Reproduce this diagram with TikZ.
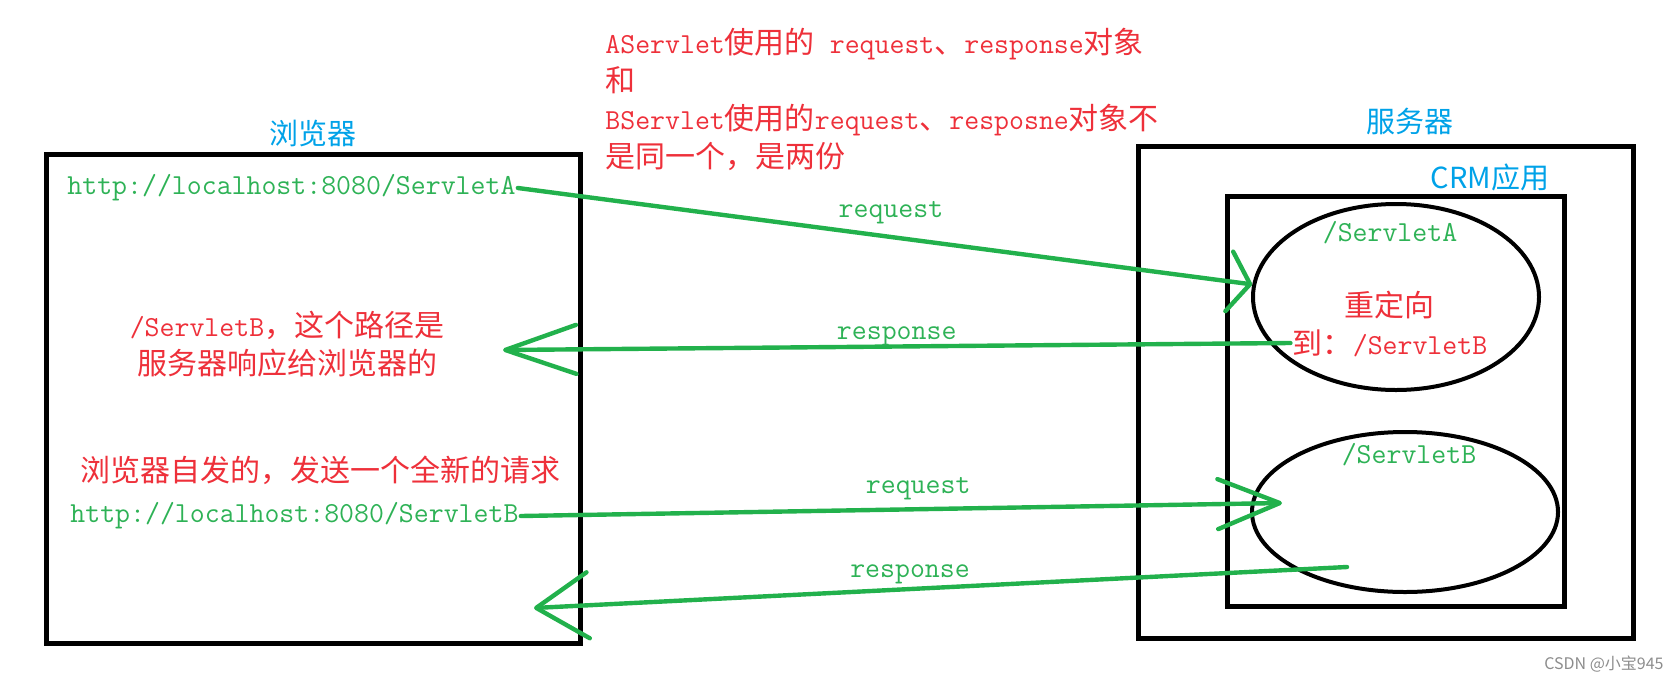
\documentclass[tikz,border=0pt]{standalone}
\usepackage{fontspec}
\newfontfamily\cjkfont{Noto Sans CJK SC}
\usetikzlibrary{shapes.geometric, arrows.meta, positioning}
\newcommand{\zh}[1]{{\fontsize{15pt}{19pt}\selectfont\cjkfont #1}}
\definecolor{paintgreen}{RGB}{34,177,76}
\definecolor{textgreen}{RGB}{46,178,86}
\definecolor{notered}{RGB}{238,48,58}
\definecolor{titleblue}{RGB}{0,162,232}

\begin{document}
\begin{tikzpicture}[
    x=0.5pt, y=-0.5pt,
    %% -- Container styles -------------------------------------------------
    %%
    %% frame: thick black box (browser, server, application).
    %% oval:  servlet ellipse inside the application box.
    frame/.style={draw, line width=2.5pt, inner sep=0pt},
    oval/.style={draw, shape=ellipse, line width=2pt, inner sep=0pt},
    %% -- Text styles ------------------------------------------------------
    %%
    %%   Latin text is monospaced, Chinese parts go through \zh{...}.
    title/.style={font=\fontsize{14.5pt}{19pt}\selectfont\cjkfont, text=titleblue, inner sep=1pt},
    mono/.style={font=\fontsize{14.5pt}{19pt}\selectfont\ttfamily, text=textgreen, inner sep=1pt},
    note/.style={font=\fontsize{14.5pt}{19pt}\selectfont\ttfamily, text=notered, inner sep=1pt},
    %% -- Edge styles ------------------------------------------------------
    %%
    %%   Usage:  \draw[flow, vtip={length}{width}] (A) -- (B);
    flow/.style={draw=paintgreen, line width=2.2pt, line cap=round},
    vtip/.style 2 args={-{Straight Barb[length=#1, width=#2, round]}},
    elabel/.style={mono},
]
\useasboundingbox (0,0) rectangle (1679,680);

%% -- Place nodes here -----------------------------------------------------

\node[frame, minimum width=267pt, minimum height=244.5pt] (Browser_Box) at (313,398.5) {};
\node[title, above=1pt of Browser_Box]                    (Browser_Title) {浏览器};

\node[frame, minimum width=247.5pt, minimum height=246pt] (Server_Box) at (1385.5,392) {};
\node[title, above=3pt of Server_Box, xshift=12pt]        (Server_Title) {服务器};

\node[frame, minimum width=168.5pt, minimum height=205pt] (CRM_Box) at (1395.5,401) {};
\node[title, above left=0pt and 7.5pt of CRM_Box.north east] (CRM_Title) {CRM应用};

\node[oval, minimum width=143pt, minimum height=93pt] (ServletA_Oval) at (1396,297) {};
\node[oval, minimum width=153pt, minimum height=80pt] (ServletB_Oval) at (1405,512) {};

\node[mono] (ServletA_Name)   at (1390,233) {/ServletA};
\node[note] (Redirect_Top)    at (1389,305) {\zh{重定向}};
\node[note] (Redirect_Target) at (1390,343) {\zh{到：}/ServletB};
\node[mono] (ServletB_Name)   at (1409,455) {/ServletB};

\node[mono, anchor=west] (URL_A) at (65,188) {http://localhost:8080/ServletA};
\node[mono, anchor=west] (URL_B) at (68,516) {http://localhost:8080/ServletB};

\node[note, align=center] (Path_Note) at (287,344) {/ServletB\zh{，这个路径是}\\\zh{服务器响应给浏览器的}};
\node[note, anchor=west] (Resend_Note) at (78,470) {\zh{浏览器自发的，发送一个全新的请求}};
\node[note, align=left, anchor=west] (Object_Note) at (603,99)
    {AServlet\zh{使用的} request\zh{、}response\zh{对象}\\\zh{和}\\BServlet\zh{使用的}request\zh{、}resposne\zh{对象不}\\\zh{是同一个，是两份}};

\node[font=\fontsize{8pt}{10pt}\selectfont\cjkfont, text=black!45, anchor=east, inner sep=0pt] (Watermark) at (1664,664) {CSDN @小宝945};

%% -- Free ends of the connectors -------------------------------------------

\coordinate (Resp1_Tip)   at (503,350);
\coordinate (Req2_Tip)    at (1282,503);
\coordinate (Resp2_Start) at (1347,567);
\coordinate (Resp2_Tip)   at (534,608);

%% -- Draw edges here ------------------------------------------------------

%% First round trip (ServletA):
\draw[flow, vtip={10.5pt}{30pt}] (URL_A.east) -- node[elabel, above=4.5pt, pos=0.508] {request} (ServletA_Oval.175);
\draw[flow, vtip={35.5pt}{24.5pt}] (Redirect_Target.west) -- node[elabel, above=-2pt, pos=0.5] {response} (Resp1_Tip);

%% Second round trip (ServletB):
\draw[flow, vtip={31pt}{25pt}] (URL_B.east) -- node[elabel, above=2.5pt, pos=0.522] {request} (Req2_Tip);
\draw[flow, vtip={26pt}{33pt}] (Resp2_Start) -- node[elabel, above=0.25pt, pos=0.5375] {response} (Resp2_Tip);

\end{tikzpicture}
\end{document}
